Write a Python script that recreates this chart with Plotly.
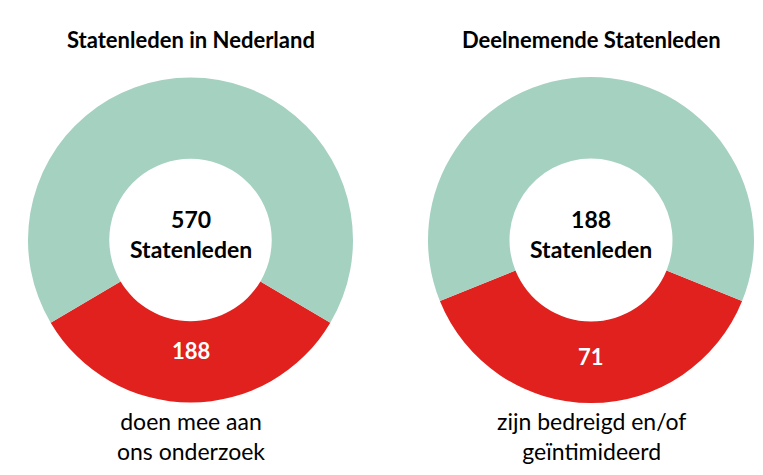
import plotly.graph_objects as go

titles = ["Statenleden in Nederland", "Deelnemende Statenleden"]
labels = ["deel", "rest"]
left_vals = [188, 382]
right_vals = [71, 117]
centers = ["570<br>Statenleden", "188<br>Statenleden"]
captions = ["doen mee aan<br>ons onderzoek", "zijn bedreigd en/of<br>geïntimideerd"]
colors = ["#e0211d", "#a5d1c1"]
W, H = 763, 475
font = "Lato"

fig = go.Figure()
doms = [(20/W, 345/W), (420/W, 746/W)]
for vals, dom in zip([left_vals, right_vals], doms):
    frac = vals[0] / sum(vals)
    fig.add_trace(go.Pie(
        values=vals, labels=labels, textinfo="none",
        marker=dict(colors=colors, line=dict(width=0)),
        hole=0.5, sort=False, direction="clockwise",
        rotation=180 - frac * 180, showlegend=False, hoverinfo="skip",
        domain=dict(x=list(dom), y=[(H-395)/H, (H-69)/H])))

slice_y = [342, 348]
for i, (dom, vals) in enumerate(zip(doms, [left_vals, right_vals])):
    cx = (dom[0] + dom[1]) / 2
    fig.add_annotation(x=cx, y=1-32/H, xref="paper", yref="paper", xanchor="center", yanchor="middle",
                       text=f"<b>{titles[i]}</b>",
                       showarrow=False, font=dict(size=22, family=font, color="black"))
    fig.add_annotation(x=cx, y=1-226/H, xref="paper", yref="paper", xanchor="center", yanchor="middle",
                       text=f"<b>{centers[i]}</b>",
                       showarrow=False, font=dict(size=23, family=font, color="black"))
    fig.add_annotation(x=cx, y=1-slice_y[i]/H, xref="paper", yref="paper", xanchor="center", yanchor="middle",
                       text=f"<b>{vals[0]}</b>",
                       showarrow=False, font=dict(size=22, family=font, color="white"))
    fig.add_annotation(x=cx, y=1-428/H, xref="paper", yref="paper", xanchor="center", yanchor="middle",
                       text=captions[i],
                       showarrow=False, font=dict(size=23, family=font, color="black"))

fig.update_layout(width=W, height=H, margin=dict(l=0, r=0, t=0, b=0),
                  paper_bgcolor="white", plot_bgcolor="white")
fig.write_html("out.html")
